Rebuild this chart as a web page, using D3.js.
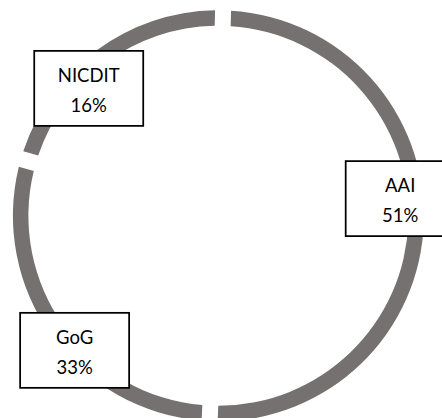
<!DOCTYPE html>
<html>
<head>
<meta charset="utf-8">
<script src="https://cdn.jsdelivr.net/npm/d3@7"></script>
<style>
  body { margin: 0; background: #fff; }
  svg { display: block; }
</style>
</head>
<body>
<svg id="chart"></svg>
<script>
// dados do grafico
var categories = ["AAI", "GoG", "NICDIT"];
var percentLabels = ["51%", "33%", "16%"];          // texto impresso nos rotulos
var ringShare = [51.0, 28.6, 20.4];                  // tamanho dos segmentos como desenhados no anel

var width = 442;
var height = 418;
var cx = 218.4, cy = 215.8;
var outerR = 205.5, innerR = 190;
var gap = 16; // largura do espaco branco entre segmentos (px)

// posicao de cada caixa de rotulo (angulo em graus, distancia do centro)
var labelPlace = [
    {angle: 84.6, dist: 182.6},
    {angle: 226.9, dist: 196.9},
    {angle: 314.5, dist: 181.8}
];
var boxW = 109, boxH = 75;

var svg = d3.select("#chart")
    .attr("width", width)
    .attr("height", height);

var g = svg.append("g")
    .attr("transform", "translate(" + cx + "," + cy + ")");

var offset = 1.3 * Math.PI / 180; // angulo do primeiro segmento
var midR = (innerR + outerR) / 2;

var pie = d3.pie()
    .sort(null)
    .value(function(d){ return d; })
    .startAngle(offset)
    .endAngle(offset + 2 * Math.PI)
    .padAngle(gap / midR);

var arc = d3.arc()
    .innerRadius(innerR)
    .outerRadius(outerR)
    .padRadius(midR);

g.selectAll("path.slice")
    .data(pie(ringShare))
    .enter()
    .append("path")
        .attr("class", "slice")
        .attr("d", arc)
        .attr("fill", "#767171");

// caixas de rotulo
var labels = g.selectAll("g.label")
    .data(categories)
    .enter()
    .append("g")
        .attr("class", "label")
        .attr("transform", function(d, i){
            var a = labelPlace[i].angle * Math.PI / 180;
            var x = Math.sin(a) * labelPlace[i].dist;
            var y = -Math.cos(a) * labelPlace[i].dist;
            return "translate(" + x + "," + y + ")";
        });

labels.append("rect")
    .attr("x", -boxW / 2)
    .attr("y", -boxH / 2)
    .attr("width", boxW)
    .attr("height", boxH)
    .attr("fill", "#fff")
    .attr("stroke", "#000")
    .attr("stroke-width", 1.75);

labels.append("text")
    .attr("text-anchor", "middle")
    .attr("y", -boxH / 2 + 31)
    .attr("font-family", "Lato, 'Open Sans', sans-serif")
    .attr("font-size", 18.5)
    .attr("fill", "#000")
    .text(function(d){ return d; });

labels.append("text")
    .attr("text-anchor", "middle")
    .attr("y", -boxH / 2 + 61)
    .attr("font-family", "Lato, 'Open Sans', sans-serif")
    .attr("font-size", 18.5)
    .attr("fill", "#000")
    .text(function(d, i){ return percentLabels[i]; });
</script>
</body>
</html>
